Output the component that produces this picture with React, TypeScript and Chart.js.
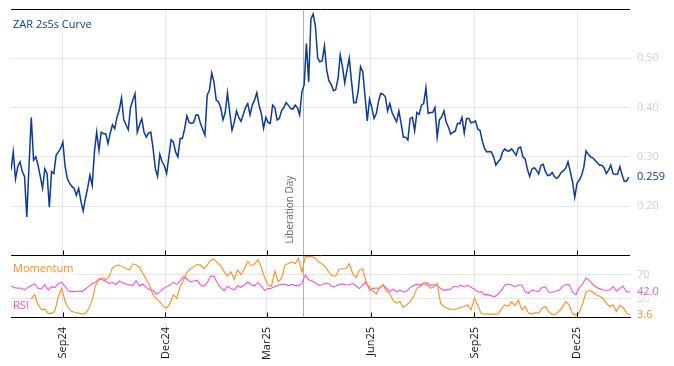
import React, { useEffect, useRef } from "react";
import { Chart, registerables } from "chart.js";

Chart.register(...registerables);

// ---------- data ----------
const startDate = "2024-07-17";
const curveStepDays = 2;
const oscStepDays = 3;
const xSpanDays = 549;

const curveName = "ZAR 2s5s Curve";
const momentumName = "Momentum";
const rsiName = "RSI";

const curveValues = [
  0.273, 0.31, 0.255, 0.28, 0.29, 0.27, 0.26, 0.178, 0.283, 0.38,
  0.293, 0.30, 0.283, 0.26, 0.236, 0.276, 0.266, 0.198, 0.27, 0.266,
  0.303, 0.31, 0.317, 0.33, 0.28, 0.256, 0.246, 0.24, 0.236, 0.222,
  0.236, 0.21, 0.19, 0.215, 0.237, 0.263, 0.242, 0.31, 0.35, 0.313,
  0.35, 0.347, 0.347, 0.327, 0.348, 0.365, 0.357, 0.38, 0.395, 0.42,
  0.375, 0.365, 0.355, 0.40, 0.415, 0.428, 0.35, 0.365, 0.377, 0.35,
  0.34, 0.348, 0.35, 0.317, 0.276, 0.26, 0.305, 0.29, 0.282, 0.266,
  0.30, 0.335, 0.33, 0.31, 0.30, 0.337, 0.337, 0.357, 0.383, 0.37,
  0.368, 0.37, 0.385, 0.385, 0.368, 0.356, 0.344, 0.425, 0.435, 0.47,
  0.452, 0.415, 0.412, 0.40, 0.375, 0.39, 0.43, 0.39, 0.354, 0.37,
  0.393, 0.38, 0.372, 0.386, 0.40, 0.408, 0.385, 0.405, 0.415, 0.43,
  0.405, 0.388, 0.358, 0.38, 0.37, 0.368, 0.405, 0.40, 0.375, 0.378,
  0.394, 0.40, 0.41, 0.405, 0.398, 0.397, 0.405, 0.40, 0.385, 0.432,
  0.446, 0.53, 0.452, 0.58, 0.59, 0.565, 0.50, 0.493, 0.495, 0.525,
  0.476, 0.454, 0.447, 0.434, 0.436, 0.458, 0.507, 0.483, 0.45, 0.476,
  0.50, 0.453, 0.41, 0.41, 0.435, 0.483, 0.473, 0.422, 0.373, 0.417,
  0.40, 0.378, 0.388, 0.413, 0.429, 0.427, 0.422, 0.393, 0.408, 0.39,
  0.38, 0.371, 0.393, 0.368, 0.34, 0.34, 0.334, 0.378, 0.38, 0.353,
  0.39, 0.386, 0.405, 0.408, 0.44, 0.388, 0.39, 0.39, 0.40, 0.34,
  0.375, 0.381, 0.393, 0.37, 0.36, 0.346, 0.35, 0.352, 0.368, 0.367,
  0.38, 0.348, 0.378, 0.378, 0.369, 0.37, 0.373, 0.356, 0.354, 0.332,
  0.317, 0.31, 0.311, 0.31, 0.30, 0.283, 0.29, 0.295, 0.31, 0.316,
  0.312, 0.312, 0.316, 0.31, 0.303, 0.318, 0.32, 0.30, 0.296, 0.275,
  0.26, 0.275, 0.278, 0.273, 0.265, 0.283, 0.285, 0.27, 0.262, 0.263,
  0.268, 0.26, 0.256, 0.261, 0.268, 0.272, 0.277, 0.29, 0.27, 0.25,
  0.218, 0.246, 0.253, 0.262, 0.278, 0.312, 0.305, 0.30, 0.298, 0.293,
  0.288, 0.283, 0.283, 0.278, 0.266, 0.273, 0.283, 0.266, 0.264, 0.265,
  0.28, 0.263, 0.25, 0.251, 0.259,
];

const momentumValues = [
  12, 18, 14, 25, 27, 24, 30, 37, 20, 12,
  13, 6, 6, 10, 34, 47.5, 25.6, 14.6, 9, 7.5,
  6.4, 5, 6, 13.5, 28, 52, 63, 65, 62, 67,
  81.5, 85, 86, 83, 80, 78, 88, 86, 82, 72,
  62, 52, 36, 30, 25, 18, 15,
  22, 36.6, 31, 50, 61, 74, 80, 83, 87, 86,
  80, 86, 94, 96, 90, 85, 75, 68, 75, 62,
  77.7, 70.5, 80, 92, 85, 87.5, 94.7, 83, 65, 53,
  51, 76, 58.5, 64, 86, 88.6, 91, 88.6, 97, 74,
  100, 100, 100, 97, 91, 87.5,
  83, 74, 68, 68, 79, 80, 80, 88.6, 72, 65,
  77.7, 80, 56, 50, 43, 38, 49, 53, 43, 38.8,
  26.7, 22.8, 25.6, 15.7, 20, 25.6, 33.8, 47.5, 50, 55.7,
  53, 47.5, 50, 55.7, 22.8, 17, 14.6, 12, 12.4, 13.5,
  16.3, 17.4, 20, 12, 31, 19,
  6, 5, 4.8, 4.8, 4.8, 5, 13.5, 20, 18, 25,
  18.5, 28.3, 12, 17.4, 6.4, 4.8, 7.5, 6.4, 14.6, 17.4,
  9, 3.7, 4.8, 9.7, 16.3, 25.6, 20, 5.3, 3.1, 7.5,
  21.8, 41, 44.2, 41, 37, 34.4, 31, 22.8, 17.4, 20,
  9, 19, 15.7, 6.4, 3.6,
];

const rsiValues = [
  51.4, 48.6, 47.5, 48, 44.8, 49, 52, 54.6, 47.5, 46.4,
  53, 44.8, 50.3, 48.6, 55.7, 57.4, 50.3, 43, 42, 42,
  43, 42, 46.4, 50.3, 55.2, 57.4, 62.9, 61.8, 59.6, 55.2,
  57.4, 53.5, 59.6, 56.8, 54.6, 53.5, 52, 60, 51.4, 54.6,
  48.6, 45.3, 44.2, 37.6, 41.5, 47, 50.3,
  53, 57.4, 54, 59.6, 66.7, 62.9, 58.5, 59.6, 60.7, 53.5,
  50.8, 56.8, 67.3, 67.8, 56.3, 49.2, 43.7, 50.8, 47, 44.8,
  52, 49.2, 53.5, 58, 53.5, 51.4, 56.8, 51.4, 43.7, 47,
  47.5, 50.3, 52.5, 54, 54, 52, 54, 52, 52, 56.3,
  69.5, 61.8, 59.6, 56.8, 52.5, 53.5,
  56.3, 54.6, 49.7, 50.8, 54, 54.6, 53.5, 53, 55.7, 51.4,
  47, 53, 58, 44.2, 47.5, 48, 47.5, 53.5, 47.5, 42,
  46.4, 41.5, 44.8, 41, 43, 48.6, 52, 54, 52.5, 56.3,
  56.8, 52.5, 53.5, 52.5, 47.5, 44.2, 45.3, 46.4, 50.8, 49.7,
  52.5, 49.7, 52.5, 49.2, 45.9, 41.5,
  42, 36.6, 37, 35, 33.8, 38, 44.2, 52.5, 54.6, 53,
  50.3, 53, 53, 42, 39.3, 44.8, 43, 42, 49.2, 49.7,
  41, 41, 42.6, 43.7, 50.8, 53.5, 54, 41, 37, 48.6,
  54.6, 64.5, 60.7, 54, 49.2, 47, 44.8, 44.2, 44.2, 50.8,
  42.6, 47.5, 50.8, 41, 42,
];

const xTickDates = ["2024-09-01", "2024-12-01", "2025-03-01", "2025-06-01", "2025-09-01", "2025-12-01"];
const xTickLabels = ["Sep24", "Dec24", "Mar25", "Jun25", "Sep25", "Dec25"];
const curveTicks = [0.2, 0.3, 0.4, 0.5];
const oscTicks = [30, 70];
const eventDate = "2025-04-02";
const eventLabel = "Liberation Day";

// ---------- styling ----------
const FONT = "'Open Sans', 'Noto Sans', sans-serif";
const BLUE = "#0b3a9e";
const ORANGE = "#ff8c1a";
const MAGENTA = "#f450dc";
const GRID = "#e6e6e6";
const TICK_GRAY = "#cfcfcf";

const DAY = 86400000;
const dayOf = (s: string) =>
  Math.round((Date.parse(s + "T00:00:00Z") - Date.parse(startDate + "T00:00:00Z")) / DAY);

function drawLabel(ctx: CanvasRenderingContext2D, text: string, x: number, y: number, color: string, bg: boolean, size = 11) {
  ctx.font = `${size}px ${FONT}`;
  const w = ctx.measureText(text).width;
  if (bg) {
    ctx.fillStyle = "rgba(255,255,255,0.8)";
    ctx.fillRect(x - 3, y - 7, w + 6, 14);
  }
  ctx.fillStyle = color;
  ctx.textAlign = "left";
  ctx.textBaseline = "middle";
  ctx.fillText(text, x, y);
}

const decorPlugin = {
  id: "decor",
  beforeDatasetsDraw(chart: any) {
    const { ctx, chartArea: a, scales } = chart;
    const x = Math.round(scales.x.getPixelForValue(dayOf(eventDate))) + 0.5;
    ctx.save();
    ctx.strokeStyle = "rgba(0,0,0,0.3)";
    ctx.lineWidth = 1;
    ctx.beginPath();
    ctx.moveTo(x, a.top);
    ctx.lineTo(x, a.bottom);
    ctx.stroke();
    ctx.translate(x - 13, scales.y.bottom - 12);
    ctx.rotate(-Math.PI / 2);
    ctx.font = `10px ${FONT}`;
    ctx.fillStyle = "#666";
    ctx.textAlign = "left";
    ctx.textBaseline = "middle";
    ctx.fillText(eventLabel, 0, 0);
    ctx.restore();
  },
  afterDatasetsDraw(chart: any) {
    const { ctx, chartArea: a, scales } = chart;
    ctx.save();
    ctx.strokeStyle = "#000";
    ctx.lineWidth = 1;
    const topY = Math.round(a.top) + 0.5;
    const midY = Math.round(scales.y2.top) + 0.5;
    const botY = Math.round(a.bottom) + 0.5;
    ctx.beginPath();
    ctx.moveTo(a.left, topY);
    ctx.lineTo(a.right, topY);
    ctx.moveTo(a.left, midY);
    ctx.lineTo(a.right, midY);
    for (const d of xTickDates) {
      const x = Math.round(scales.x.getPixelForValue(dayOf(d))) + 0.5;
      ctx.moveTo(x, midY - 5);
      ctx.lineTo(x, midY);
      ctx.moveTo(x, botY - 5);
      ctx.lineTo(x, botY);
    }
    ctx.stroke();

    drawLabel(ctx, curveName, a.left + 2, a.top + 16, BLUE, true);
    drawLabel(ctx, momentumName, a.left + 2, scales.y2.top + 13, ORANGE, true);
    drawLabel(ctx, rsiName, a.left + 2, scales.y2.bottom - 11, MAGENTA, true);

    const rx = a.right + 7;
    const lastCurve = curveValues[curveValues.length - 1];
    const lastRsi = rsiValues[rsiValues.length - 1];
    const lastMom = momentumValues[momentumValues.length - 1];
    drawLabel(ctx, lastCurve.toFixed(3), rx, scales.y.getPixelForValue(lastCurve), BLUE, true);
    drawLabel(ctx, lastRsi.toFixed(1), rx, scales.y2.getPixelForValue(lastRsi), MAGENTA, true);
    drawLabel(ctx, lastMom.toFixed(1), rx, scales.y2.getPixelForValue(lastMom), ORANGE, true);
    ctx.restore();
  },
};

export default function App() {
  const ref = useRef<HTMLCanvasElement>(null);
  useEffect(() => {
    const curveData = curveValues.map((y, i) => ({ x: i * curveStepDays, y }));
    const momData = momentumValues.map((y, i) => ({ x: i * oscStepDays, y }));
    const rsiData = rsiValues.map((y, i) => ({ x: i * oscStepDays, y }));
    const tickDays = xTickDates.map(dayOf);

    const chart = new Chart(ref.current as HTMLCanvasElement, {
      type: "line",
      data: {
        datasets: [
          { label: curveName, data: curveData, yAxisID: "y", borderColor: BLUE, borderWidth: 1.5, pointRadius: 0, tension: 0 },
          { label: momentumName, data: momData, yAxisID: "y2", borderColor: ORANGE, borderWidth: 1.1, pointRadius: 0, tension: 0 },
          { label: rsiName, data: rsiData, yAxisID: "y2", borderColor: MAGENTA, borderWidth: 1.1, pointRadius: 0, tension: 0 },
        ],
      },
      options: {
        animation: false,
        responsive: false,
        maintainAspectRatio: false,
        devicePixelRatio: 1,
        layout: { padding: { left: 11, top: 9, right: 0, bottom: 0 } },
        plugins: { legend: { display: false }, tooltip: { enabled: false } },
        scales: {
          x: {
            type: "linear",
            position: "bottom",
            min: 0,
            max: xSpanDays,
            afterBuildTicks: (s: any) => {
              s.ticks = tickDays.map((v) => ({ value: v }));
            },
            afterFit: (s: any) => {
              s.height = 49;
              s.paddingLeft = 0;
              s.paddingRight = 0;
            },
            grid: { color: GRID, drawTicks: false, lineWidth: 1 },
            border: { display: true, color: "#000", width: 1 },
            ticks: {
              autoSkip: false,
              minRotation: 90,
              maxRotation: 90,
              padding: 10,
              color: "#111",
              font: { family: FONT, size: 11 },
              callback: (v: any) => {
                const k = tickDays.indexOf(Number(v));
                return k >= 0 ? xTickLabels[k] : "";
              },
            },
          },
          y: {
            type: "linear",
            position: "right",
            stack: "panels",
            stackWeight: 4,
            min: 0.1,
            max: 0.6,
            afterBuildTicks: (s: any) => {
              s.ticks = curveTicks.map((v) => ({ value: v }));
            },
            afterFit: (s: any) => {
              s.width = 44;
              s.paddingTop = 0;
              s.paddingBottom = 0;
            },
            grid: { color: GRID, drawTicks: false },
            border: { display: false },
            ticks: {
              padding: 7,
              color: TICK_GRAY,
              font: { family: FONT, size: 11 },
              callback: (v: any) => Number(v).toFixed(2),
            },
          },
          y2: {
            type: "linear",
            position: "right",
            stack: "panels",
            stackWeight: 1,
            min: 0,
            max: 102,
            afterBuildTicks: (s: any) => {
              s.ticks = oscTicks.map((v) => ({ value: v }));
            },
            afterFit: (s: any) => {
              s.width = 44;
              s.paddingTop = 0;
              s.paddingBottom = 0;
            },
            grid: { color: GRID, drawTicks: false },
            border: { display: false },
            ticks: {
              padding: 7,
              color: TICK_GRAY,
              font: { family: FONT, size: 11 },
              callback: (v: any) => String(v),
            },
          },
        },
      },
      plugins: [decorPlugin],
    } as any);
    return () => chart.destroy();
  }, []);

  return (
    <div style={{ position: "absolute", left: 0, top: 0, width: 674, height: 366, background: "#fff" }}>
      <canvas ref={ref} width={674} height={366} style={{ display: "block", width: 674, height: 366 }} />
    </div>
  );
}
